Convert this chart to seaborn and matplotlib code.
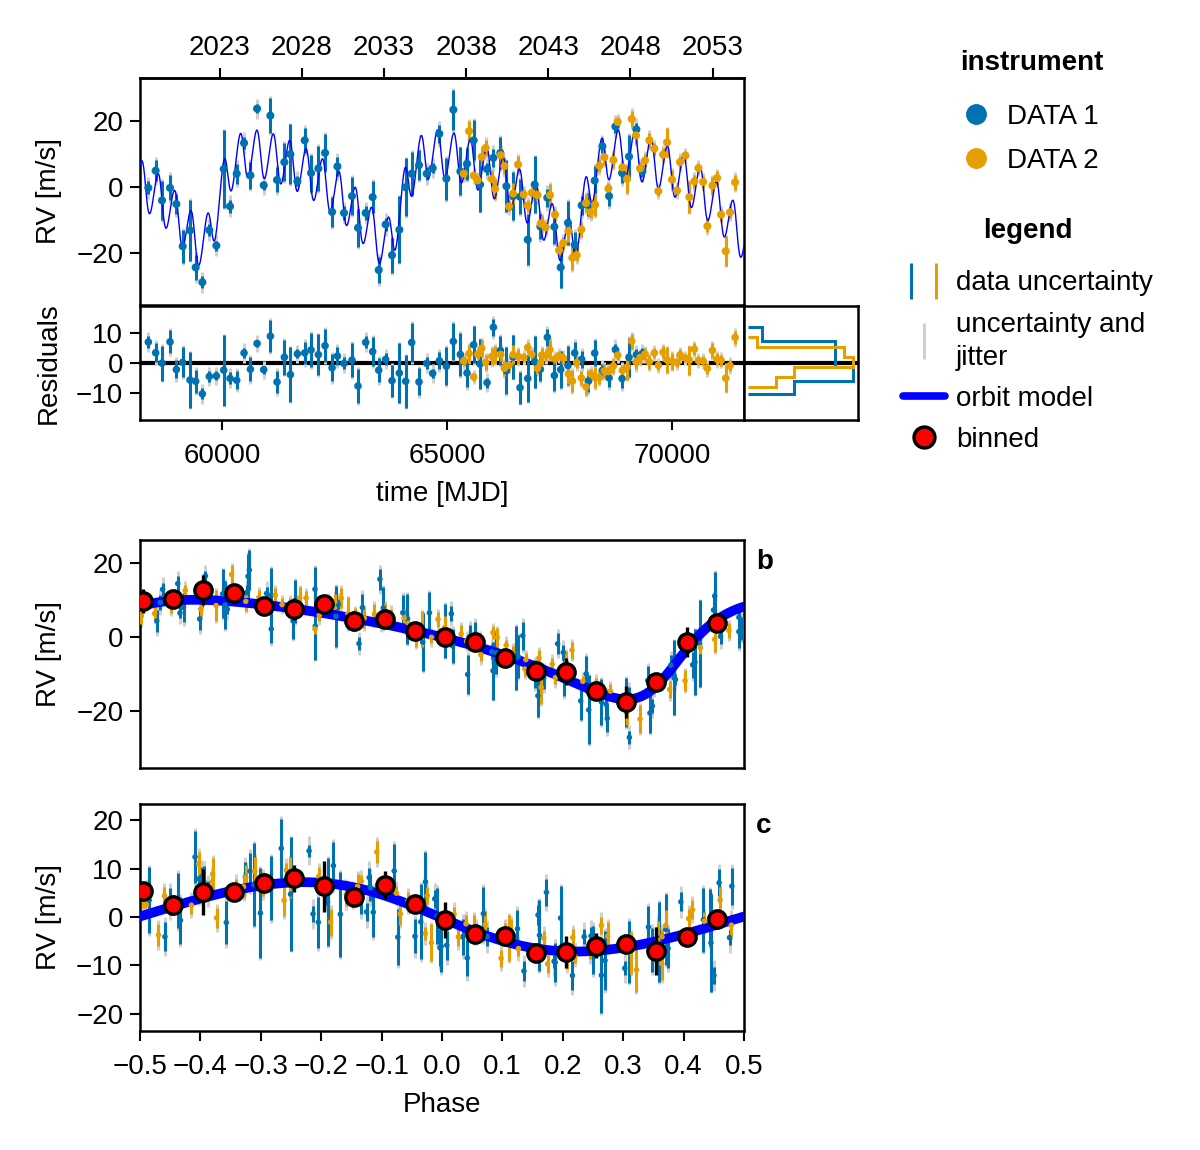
import numpy as np
import pandas as pd
import matplotlib
matplotlib.use("Agg")
import matplotlib.pyplot as plt
from matplotlib.lines import Line2D
from matplotlib.legend_handler import HandlerTuple
import seaborn as sns

# ---------------- values ----------------
t1 = [58363, 58526, 58667, 58845, 58986, 59126, 59290, 59415, 59564, 59719, 59875, 60038, 60179, 60327,
      60490, 60631, 60779, 60927, 61075, 61223, 61386, 61520, 61675, 61838, 61979, 62142, 62290, 62446,
      62565, 62711, 62889, 63022, 63193, 63348, 63482, 63637, 63778, 63941, 64082, 64215, 64378, 64549,
      64682, 64830, 64986, 65141, 65297, 65445, 65593, 65734, 65890, 66031, 66186, 66320, 66468, 66623,
      66794, 66949, 67075, 67230, 67386, 67526, 67689, 67838, 67993, 68141, 68282, 68453, 68601, 68742,
      68890, 69045, 69208, 69342]
rv1 = [-0.3, 4.9, -4.1, -0.3, -5.2, -18.0, -13.2, -24.4, -28.9, -13.1, -17.8, 5.4, -5.9, 4.0, 13.3, 3.5,
       23.7, 0.5, 21.6, 2.1, 7.5, 9.9, 1.7, 14.1, 4.2, 5.6, 10.3, -7.6, 6.2, -7.9, -2.8, -12.4, -7.9, -3.1,
       -25.2, -11.4, -20.7, -13.0, -0.1, 4.0, 6.6, 4.0, 5.7, 16.1, 2.5, 23.4, 4.7, 7.0, 14.1, 0.7, 5.4, 8.8,
       10.3, 0.2, -2.8, -3.0, -16.0, 0.7, -12.0, -3.3, -12.1, -24.4, -10.9, -17.5, -5.6, -5.4, 1.9, 12.3,
       -2.8, 18.3, 4.2, 9.2, 17.4, 4.7]
err1 = [2.0, 3.2, 5.8, 3.8, 3.0, 5.0, 9.3, 3.8, 1.8, 1.8, 1.5, 11.8, 2.0, 3.0, 1.8, 4.0, 1.3, 1.3, 5.3,
        3.8, 5.8, 9.1, 1.5, 3.8, 5.6, 6.8, 5.6, 4.5, 3.0, 2.0, 5.7, 5.8, 2.0, 4.8, 4.0, 2.0, 5.3, 10.1, 8.8,
        6.6, 4.5, 2.0, 1.5, 2.8, 6.4, 6.1, 7.3, 4.8, 6.1, 8.3, 1.7, 2.8, 4.8, 7.8, 7.3, 5.3, 7.8, 8.6, 3.8,
        2.8, 5.1, 6.1, 6.6, 3.8, 2.8, 3.5, 4.3, 2.0, 3.0, 2.0, 3.0, 6.6, 2.0, 1.8]

t2 = [65371, 65490, 65593, 65682, 65771, 65860, 65994, 66068, 66194, 66275, 66379, 66468, 66579, 66705,
      66794, 66883, 67009, 67083, 67104, 67193, 67289, 67400, 67489, 67586, 67697, 67786, 67882, 67986,
      68090, 68193, 68290, 68386, 68497, 68586, 68697, 68793, 68897, 69001, 69105, 69201, 69290, 69401,
      69497, 69608, 69697, 69801, 69890, 70001, 70112, 70179, 70298, 70387, 70498, 70587, 70691, 70787,
      70898, 71002, 71091, 71194, 71290, 71402]
rv2 = [4.0, 16.9, 3.4, 2.0, 9.1, 11.8, 2.4, -0.6, 9.6, 6.3, -5.9, -2.0, 6.8, -2.3, -5.7, -1.8, -2.5, -11.1,
       -11.1, -12.3, -2.5, -8.4, -19.2, -17.0, -13.4, -21.5, -20.7, -12.9, -4.9, -7.7, -5.4, 6.4, 9.0, -0.5,
       8.1, 19.7, 5.9, 2.4, 20.6, 15.6, 5.6, 8.0, 14.1, 11.6, -1.3, 9.8, 13.5, 2.2, -1.1, 7.5, 9.5, -3.1, 1.7,
       5.7, 1.5, -11.9, 0.4, 2.7, -8.4, -19.5, -7.7, 1.4]
err2 = [1.7, 3.0, 1.3, 1.7, 2.8, 2.5, 2.8, 3.0, 2.3, 2.5, 1.5, 3.2, 2.5, 1.5, 1.8, 1.5, 1.8, 1.8, 2.3, 1.8,
        3.3, 1.5, 1.5, 1.8, 3.3, 3.8, 1.8, 2.3, 2.8, 1.8, 3.5, 2.0, 2.3, 1.8, 2.3, 1.5, 1.8, 4.3, 2.5, 2.5,
        2.0, 2.0, 2.3, 1.8, 1.5, 2.0, 4.3, 2.8, 1.5, 1.8, 1.3, 4.8, 2.0, 1.5, 1.8, 1.8, 2.5, 2.0, 1.8, 4.5,
        1.8, 2.3]
jitter = {"DATA 1": 2.7, "DATA 2": 2.0}

# orbit-model curve
knot_phase_b = [-0.5, -0.4, -0.3, -0.2, -0.1, 0.0, 0.1, 0.2, 0.25, 0.3, 0.35, 0.383, 0.416, 0.455, 0.5]
knot_rv_b = [9.5, 10.5, 9.5, 7.3, 4.1, 0.5, -4.9, -9.8, -14.0, -17.3, -13.0, -7.6, -1.3, 3.7, 8.6]
knot_phase_c = [-0.5, -0.4, -0.3, -0.2, -0.1, 0.0, 0.1, 0.2, 0.3, 0.4]
knot_rv_c = [0.6, 4.2, 7.0, 7.3, 5.2, 0.0, -4.4, -6.8, -5.8, -3.4]
period_b, tref_b = 4075.0, 58300.0
period_c, tref_c = 364.9, 58305.0

# binned points in the phase panels
bin_phase = [-0.495, -0.445, -0.395, -0.345, -0.295, -0.245, -0.195, -0.145, -0.095, -0.045,
             0.005, 0.055, 0.105, 0.155, 0.205, 0.255, 0.305, 0.355, 0.405, 0.455]
bin_b = [9.7, 10.3, 12.7, 11.9, 8.5, 7.6, 8.9, 4.3, 4.9, 1.6, 0.1, -1.3, -5.6, -9.2, -9.4, -14.5, -17.5,
         -12.1, -1.3, 3.7]
bin_b_err = [3.2, 1.5, 4.0, 1.5, 1.5, 3.0, 1.5, 2.7, 1.5, 1.5, 2.0, 1.5, 1.5, 1.5, 3.6, 1.5, 4.3, 1.5,
             4.0, 1.5]
bin_c = [5.4, 2.5, 5.2, 5.2, 7.1, 8.0, 6.4, 4.2, 6.6, 2.7, -0.6, -3.6, -3.9, -7.5, -7.3, -5.9, -5.6, -7.0,
         -4.2, -0.5]
bin_c_err = [1.5, 2.0, 4.8, 1.5, 1.5, 2.8, 5.3, 1.5, 2.9, 1.5, 3.8, 1.5, 1.5, 1.5, 3.3, 2.6, 1.5, 5.0,
             1.5, 1.5]

year_ticks = [2023, 2028, 2033, 2038, 2043, 2048, 2053]
mjd_ticks = [60000, 65000, 70000]
phase_ticks = [-0.5, -0.4, -0.3, -0.2, -0.1, 0.0, 0.1, 0.2, 0.3, 0.4, 0.5]

# ---------------- style ----------------
BLUE, ORANGE = "#0072B2", "#E69F00"
GREY = "#d0d0d0"
MODEL = "#0000ff"
palette = {"DATA 1": BLUE, "DATA 2": ORANGE}

sns.set_theme(style="ticks")
plt.rcParams.update({
    "font.family": ["Liberation Sans", "DejaVu Sans"],
    "font.size": 20, "axes.labelsize": 20, "xtick.labelsize": 20, "ytick.labelsize": 20,
    "legend.fontsize": 20, "axes.linewidth": 1.8, "axes.edgecolor": "black",
    "xtick.color": "black", "ytick.color": "black", "text.color": "black", "axes.labelcolor": "black",
    "xtick.major.size": 7, "ytick.major.size": 7, "xtick.major.width": 1.5, "ytick.major.width": 1.5,
    "xtick.major.pad": 9.5, "ytick.major.pad": 5,
})


def mlabel(v):
    return str(v).replace("-", "\u2212")


# ---------------- orbit model (Keplerian fitted to the read curve) ----------------
def solve_nu(M, e):
    M = np.mod(M + np.pi, 2 * np.pi) - np.pi
    E = M + 0.85 * e * np.sign(np.sin(M))
    for _ in range(60):
        E = E - (E - e * np.sin(E) - M) / (1.0 - e * np.cos(E))
    return 2.0 * np.arctan2(np.sqrt(1 + e) * np.sin(E / 2), np.sqrt(1 - e) * np.cos(E / 2))


def fit_keplerian(ph, v):
    ph = np.asarray(ph, float)
    v = np.asarray(v, float)
    es = np.linspace(0.0, 0.7, 36)
    pps = np.linspace(0.0, 1.0, 400, endpoint=False)
    eg, pg = np.meshgrid(es, pps, indexing="ij")
    e = eg.ravel()[:, None]
    pp = pg.ravel()[:, None]
    nu = solve_nu(2 * np.pi * (ph[None, :] - pp), e)
    x1 = np.cos(nu) + e
    x2 = -np.sin(nu)
    a11 = (x1 * x1).sum(1); a12 = (x1 * x2).sum(1); a22 = (x2 * x2).sum(1)
    b1 = (x1 * v).sum(1); b2 = (x2 * v).sum(1)
    det = a11 * a22 - a12 ** 2
    A = (a22 * b1 - a12 * b2) / det
    B = (a11 * b2 - a12 * b1) / det
    sse = ((v[None, :] - A[:, None] * x1 - B[:, None] * x2) ** 2).sum(1)
    i = int(np.argmin(sse))
    return {"e": float(e[i, 0]), "pp": float(pp[i, 0]), "A": float(A[i]), "B": float(B[i])}


def kep_rv(ph, p):
    nu = solve_nu(2 * np.pi * (np.asarray(ph, float) - p["pp"]), p["e"])
    return p["A"] * (np.cos(nu) + p["e"]) - p["B"] * np.sin(nu)


def fold(t, tref, P):
    return np.mod((np.asarray(t, float) - tref) / P + 0.5, 1.0) - 0.5


pb = fit_keplerian(knot_phase_b, knot_rv_b)
pc = fit_keplerian(knot_phase_c, knot_rv_c)


def orbit(t):
    return kep_rv(fold(t, tref_b, period_b), pb) + kep_rv(fold(t, tref_c, period_c), pc)


df = pd.DataFrame({
    "t": np.array(t1 + t2, float),
    "rv": np.array(rv1 + rv2, float),
    "err": np.array(err1 + err2, float),
    "inst": ["DATA 1"] * len(t1) + ["DATA 2"] * len(t2),
})
df["err_jit"] = np.sqrt(df["err"] ** 2 + df["inst"].map(jitter) ** 2)
df["resid"] = df["rv"] - orbit(df["t"].values)
df["ph_b"] = fold(df["t"].values, tref_b, period_b)
df["rv_b"] = df["rv"] - kep_rv(fold(df["t"].values, tref_c, period_c), pc)
df["ph_c"] = fold(df["t"].values, tref_c, period_c)
df["rv_c"] = df["rv"] - kep_rv(fold(df["t"].values, tref_b, period_b), pb)

# ---------------- figure ----------------
W, H = 1200, 1150
fig = plt.figure(figsize=(W / 100, H / 100), dpi=100)


def box(x0, y0, x1, y1):
    return [x0 / W, 1 - y1 / H, (x1 - x0) / W, (y1 - y0) / H]


ax_rv = fig.add_axes(box(140, 78, 744, 305))
ax_res = fig.add_axes(box(140, 306, 744, 420), sharex=ax_rv)
ax_hist = fig.add_axes(box(744, 306, 858, 420), sharey=ax_res)
ax_b = fig.add_axes(box(140, 540, 744, 768))
ax_c = fig.add_axes(box(140, 804, 744, 1031))


def draw_data(ax, xcol, ycol, size):
    for inst in ["DATA 1", "DATA 2"]:
        d = df[df["inst"] == inst]
        ax.errorbar(d[xcol], d[ycol], yerr=d["err_jit"], fmt="none", ecolor=GREY,
                    elinewidth=2.2, capsize=0, zorder=2)
    for inst in ["DATA 1", "DATA 2"]:
        d = df[df["inst"] == inst]
        ax.errorbar(d[xcol], d[ycol], yerr=d["err"], fmt="none", ecolor=palette[inst],
                    elinewidth=2.2, capsize=0, zorder=3)
    sns.scatterplot(data=df, x=xcol, y=ycol, hue="inst", palette=palette, s=size,
                    linewidth=0, legend=False, ax=ax, zorder=4)


# top: RV vs time
tgrid = np.linspace(58178, 71600, 5000)
draw_data(ax_rv, "t", "rv", 34)
sns.lineplot(x=tgrid, y=orbit(tgrid), color=MODEL, lw=1.0, ax=ax_rv, zorder=3.5)
ax_rv.set_xlim(58178, 71600)
ax_rv.set_ylim(-35.8, 33)
ax_rv.set_yticks([-20, 0, 20], labels=[mlabel(v) for v in [-20, 0, 20]])
ax_rv.tick_params(axis="x", bottom=False, labelbottom=False, top=False)
ax_rv.set_xlabel("")
ax_rv.set_ylabel("RV [m/s]", labelpad=10)


def mjd2yr(m):
    return 2000.0 + (np.asarray(m, float) - 51544.5) / 365.25


def yr2mjd(y):
    return 51544.5 + (np.asarray(y, float) - 2000.0) * 365.25


sec = ax_rv.secondary_xaxis("top", functions=(mjd2yr, yr2mjd))
sec.set_xticks(year_ticks, labels=[str(y) for y in year_ticks])
sec.tick_params(direction="out", length=7, width=1.5, pad=5)

# residuals
ax_res.axhline(0, color="black", lw=3, zorder=1.5)
draw_data(ax_res, "t", "resid", 30)
ax_res.set_ylim(-19, 19)
ax_res.set_yticks([-10, 0, 10], labels=[mlabel(v) for v in [-10, 0, 10]])
ax_res.set_xticks(mjd_ticks, labels=[str(v) for v in mjd_ticks])
ax_res.set_xlim(58178, 71600)
ax_res.set_xlabel("time [MJD]", labelpad=9)
ax_res.set_ylabel("Residuals", labelpad=10)

# residual histogram
ax_hist.axhline(0, color="black", lw=3, zorder=1)
hmax = 0
for inst in ["DATA 1", "DATA 2"]:
    n, _, _ = ax_hist.hist(df.loc[df["inst"] == inst, "resid"], bins=5, orientation="horizontal",
                           histtype="step", color=palette[inst], lw=2.2, zorder=2)
    hmax = max(hmax, n.max())
ax_hist.set_xlim(-0.04 * hmax, 1.045 * hmax)
ax_hist.set_xticks([])
ax_hist.tick_params(axis="y", left=False, labelleft=False)

# phase b
ph_grid = np.linspace(-0.5, 0.5, 800)
draw_data(ax_b, "ph_b", "rv_b", 16)
sns.lineplot(x=ph_grid, y=kep_rv(ph_grid, pb), color=MODEL, lw=7, ax=ax_b, zorder=3.5)
ax_b.errorbar(bin_phase, bin_b, yerr=bin_b_err, fmt="o", color="black", ecolor="black",
              elinewidth=2.4, capsize=0, mfc="red", mec="black", ms=12.5, mew=2.4, zorder=6)
ax_b.set_xlim(-0.5, 0.5)
ax_b.set_ylim(-35.4, 26.2)
ax_b.set_yticks([-20, 0, 20], labels=[mlabel(v) for v in [-20, 0, 20]])
ax_b.tick_params(axis="x", bottom=False, labelbottom=False)
ax_b.set_xlabel("")
ax_b.set_ylabel("RV [m/s]", labelpad=10)
ax_b.text(1.02, 0.904, "b", transform=ax_b.transAxes, fontsize=20, fontweight="bold",
          ha="left", va="center")

# phase c
draw_data(ax_c, "ph_c", "rv_c", 16)
sns.lineplot(x=ph_grid, y=kep_rv(ph_grid, pc), color=MODEL, lw=7, ax=ax_c, zorder=3.5)
ax_c.errorbar(bin_phase, bin_c, yerr=bin_c_err, fmt="o", color="black", ecolor="black",
              elinewidth=2.4, capsize=0, mfc="red", mec="black", ms=12.5, mew=2.4, zorder=6)
ax_c.set_xlim(-0.5, 0.5)
ax_c.set_ylim(-23.6, 23.4)
ax_c.set_yticks([-20, -10, 0, 10, 20], labels=[mlabel(v) for v in [-20, -10, 0, 10, 20]])
ax_c.set_xticks(phase_ticks, labels=[mlabel(f"{v:.1f}") for v in phase_ticks])
ax_c.set_xlabel("Phase", labelpad=9)
ax_c.set_ylabel("RV [m/s]", labelpad=10)
ax_c.text(1.02, 0.903, "c", transform=ax_c.transAxes, fontsize=20, fontweight="bold",
          ha="left", va="center")

# ---------------- legends ----------------
h_d1 = Line2D([], [], marker="o", ls="none", mfc=BLUE, mec=BLUE, ms=14)
h_d2 = Line2D([], [], marker="o", ls="none", mfc=ORANGE, mec=ORANGE, ms=14)
leg1 = fig.legend([h_d1, h_d2], ["DATA 1", "DATA 2"], title="instrument", loc="upper left",
                  bbox_to_anchor=(960 / W, 1 - 50 / H), frameon=False, borderpad=0, borderaxespad=0,
                  handlelength=0.8, handletextpad=0.72, labelspacing=0.65,
                  title_fontproperties={"weight": "bold", "size": 20})
leg1._legend_box.sep = 20

h_unc = (Line2D([], [], marker="|", ls="none", color=BLUE, ms=26, mew=2.2),
         Line2D([], [], marker="|", ls="none", color=ORANGE, ms=26, mew=2.2))
h_jit = Line2D([], [], marker="|", ls="none", color=GREY, ms=26, mew=2.2)
h_mod = Line2D([], [], color=MODEL, lw=5.5)
h_bin = Line2D([], [], marker="o", ls="none", mfc="red", mec="black", mew=2.5, ms=15)
leg2 = fig.legend([h_unc, h_jit, h_mod, h_bin],
                  ["data uncertainty", "uncertainty and\njitter", "orbit model", "binned"],
                  title="legend", loc="upper left", bbox_to_anchor=(903 / W, 1 - 218 / H),
                  frameon=False, borderpad=0, borderaxespad=0, handlelength=1.5,
                  handletextpad=0.4, labelspacing=0.55,
                  handler_map={tuple: HandlerTuple(ndivide=None, pad=0.3)},
                  title_fontproperties={"weight": "bold", "size": 20})
leg2._legend_box.sep = 19
for txt in leg2.get_texts():
    txt.set_linespacing(1.35)

fig.savefig("out.png", dpi=100)
